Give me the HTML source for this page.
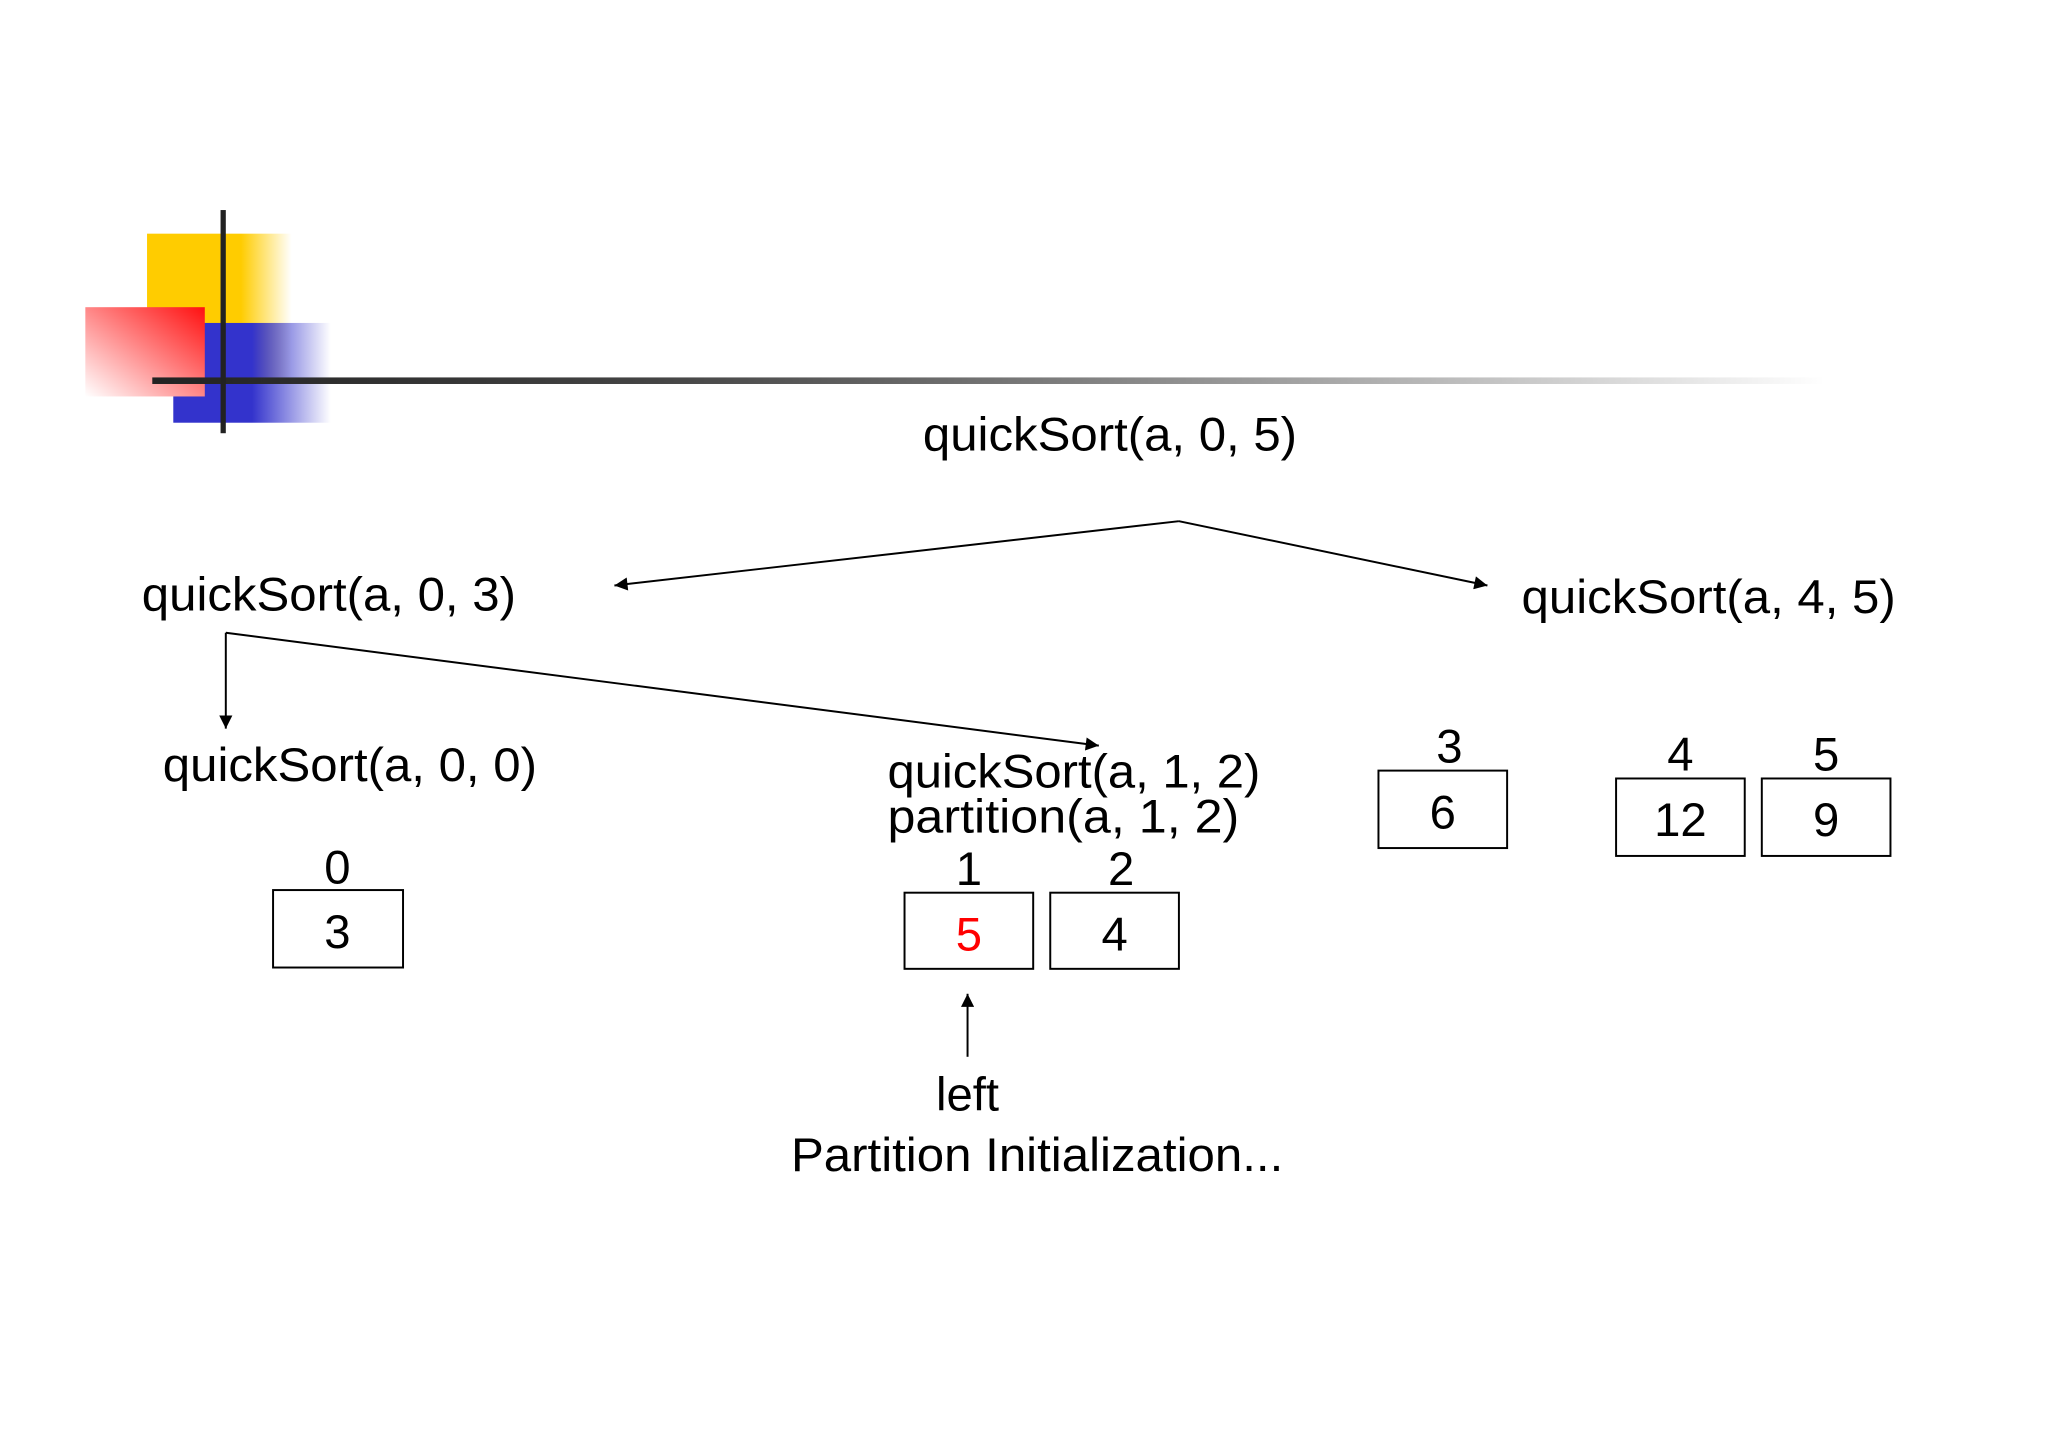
<!DOCTYPE html>
<html><head><meta charset="utf-8"><style>
html,body{margin:0;padding:0;background:#fff;}
svg{display:block;}
text{font-family:"Liberation Sans Narrow","Liberation Sans",sans-serif;fill:#000;}
</style></head><body>
<svg width="2048" height="1448" viewBox="0 0 1560 1103" preserveAspectRatio="none" xmlns="http://www.w3.org/2000/svg">
<defs>
<linearGradient id="gy" x1="0" x2="1" y1="0" y2="0"><stop offset="0.65" stop-color="#ffcc00"/><stop offset="1" stop-color="#ffcc00" stop-opacity="0"/></linearGradient>
<linearGradient id="gb" x1="0" x2="1" y1="0" y2="0"><stop offset="0.5" stop-color="#3333cc"/><stop offset="1" stop-color="#3333cc" stop-opacity="0"/></linearGradient>
<linearGradient id="gr" x1="1" y1="0" x2="0" y2="1"><stop offset="0" stop-color="#ff1010"/><stop offset="1" stop-color="#ffffff"/></linearGradient>
<linearGradient id="gl" x1="0" x2="1" y1="0" y2="0"><stop offset="0" stop-color="#222"/><stop offset="0.3" stop-color="#444"/><stop offset="1" stop-color="#222" stop-opacity="0"/></linearGradient>
<marker id="ah" viewBox="0 0 10 10" refX="10" refY="5" markerWidth="12" markerHeight="10" orient="auto-start-reverse" markerUnits="userSpaceOnUse"><path d="M0,0 L10,5 L0,10 z" fill="#000"/></marker>
</defs>
<rect x="112" y="178" width="110" height="112" fill="url(#gy)"/>
<rect x="132" y="246" width="120" height="76" fill="url(#gb)"/>
<rect x="65" y="234" width="91" height="68" fill="url(#gr)"/>
<rect x="116" y="287.5" width="1274" height="5" fill="url(#gl)"/>
<rect x="168" y="160" width="4" height="170" fill="#222"/>

<g font-size="36">
<text x="703" y="343" textLength="285" lengthAdjust="spacingAndGlyphs">quickSort(a, 0, 5)</text>
<text x="108" y="465" textLength="285" lengthAdjust="spacingAndGlyphs">quickSort(a, 0, 3)</text>
<text x="1159" y="467" textLength="285" lengthAdjust="spacingAndGlyphs">quickSort(a, 4, 5)</text>
<text x="124" y="595" textLength="285" lengthAdjust="spacingAndGlyphs">quickSort(a, 0, 0)</text>
<text x="676" y="600" textLength="284" lengthAdjust="spacingAndGlyphs">quickSort(a, 1, 2)</text>
<text x="676" y="634" textLength="268" lengthAdjust="spacingAndGlyphs">partition(a, 1, 2)</text>
</g>

<g stroke="#000" stroke-width="1.5" fill="none">
<line x1="898" y1="397" x2="468" y2="446" marker-end="url(#ah)"/>
<line x1="898" y1="397" x2="1133" y2="446" marker-end="url(#ah)"/>
<line x1="172" y1="482" x2="172" y2="555" marker-end="url(#ah)"/>
<line x1="172" y1="482" x2="837" y2="568" marker-end="url(#ah)"/>
<line x1="737" y1="805" x2="737" y2="757" marker-end="url(#ah)"/>
<rect x="208" y="678" width="99" height="59"/>
<rect x="689" y="680" width="98" height="58"/>
<rect x="800" y="680" width="98" height="58"/>
<rect x="1050" y="587" width="98" height="59"/>
<rect x="1231" y="593" width="98" height="59"/>
<rect x="1342" y="593" width="98" height="59"/>
</g>

<g font-size="36" text-anchor="middle">
<text x="257" y="673">0</text>
<text x="257" y="722">3</text>
<text x="738" y="674">1</text>
<text x="854" y="674">2</text>
<text x="738" y="724" style="fill:#ff0000">5</text>
<text x="849" y="724">4</text>
<text x="1104" y="581">3</text>
<text x="1099" y="631">6</text>
<text x="1280" y="587">4</text>
<text x="1391" y="587">5</text>
<text x="1280" y="637">12</text>
<text x="1391" y="637">9</text>
<text x="737" y="846">left</text>
<text x="790" y="892" textLength="375" lengthAdjust="spacingAndGlyphs">Partition Initialization...</text>
</g>
</svg>
</body></html>
